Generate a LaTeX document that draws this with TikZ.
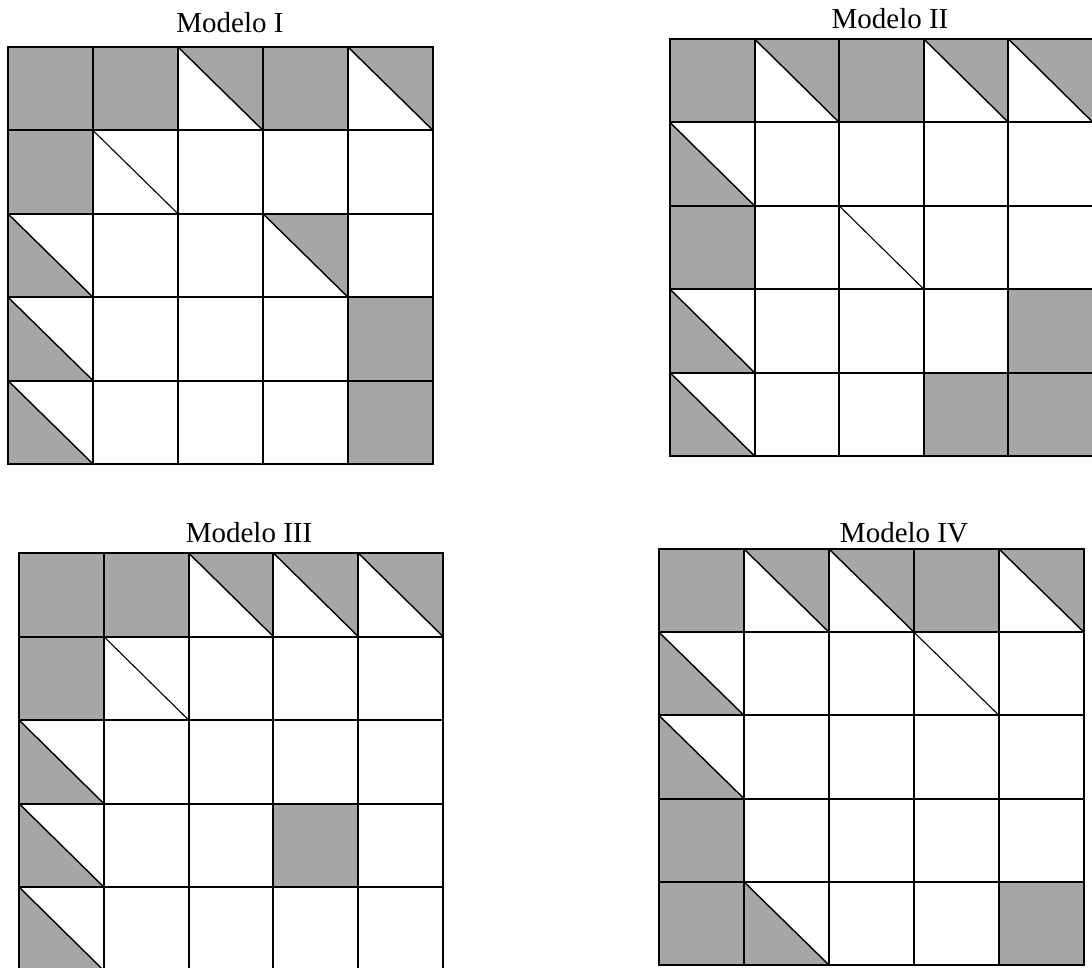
\documentclass[tikz,border=0pt]{standalone}
\usepackage{fontspec}
\setmainfont{Liberation Serif}

\definecolor{tono}{RGB}{166,166,166}

\tikzset{
    rejilla/.style={draw=black, line width=2pt},
    diag/.style={draw=black, line width=1.4pt},
    % one cell of a model, drawn in the unit square
    pics/cellW/.style={code={\draw[rejilla] (0,0) rectangle (1,1);}},
    pics/cellF/.style={code={
        \fill[tono] (0,0) rectangle (1,1);
        \draw[rejilla] (0,0) rectangle (1,1);}},
    pics/cellU/.style={code={
        \fill[tono] (0,0) -- (1,0) -- (1,1) -- cycle;
        \draw[diag] (0,0) -- (1,1);
        \draw[rejilla] (0,0) rectangle (1,1);}},
    pics/cellL/.style={code={
        \fill[tono] (0,0) -- (0,1) -- (1,1) -- cycle;
        \draw[diag] (0,0) -- (1,1);
        \draw[rejilla] (0,0) rectangle (1,1);}},
    pics/cellD/.style={code={
        \draw[diag, line width=1.1pt] (0,0) -- (1,1);
        \draw[rejilla] (0,0) rectangle (1,1);}}
}

\begin{document}
\begin{tikzpicture}[
        x=1pt, y=-1pt,
        titulo/.style={font=\fontsize{29}{34}\selectfont, anchor=base, inner sep=0pt}
    ]
\useasboundingbox (0,0) rectangle (1092,967);

% Modelo I
\node[titulo] (tI) at (230,32) {Modelo I};
\begin{scope}[shift={(8,47)}, x=85pt, y=-83.4pt]
    \foreach \fila [count=\r from 0] in {{F,F,U,F,U},{F,D,W,W,W},{L,W,W,U,W},{L,W,W,W,F},{L,W,W,W,F}}
        \foreach \c [count=\k from 0] in \fila
            \pic at (\k,\r) {cell\c};
\end{scope}

% Modelo II
\node[titulo] (tII) at (890,28) {Modelo II};
\begin{scope}[shift={(670,39)}, x=84.6pt, y=-83.4pt]
    \foreach \fila [count=\r from 0] in {{F,U,F,U,U},{L,W,W,W,W},{F,W,D,W,W},{L,W,W,W,F},{L,W,W,F,F}}
        \foreach \c [count=\k from 0] in \fila
            \pic at (\k,\r) {cell\c};
\end{scope}

% Modelo III
\node[titulo] (tIII) at (249,542) {Modelo III};
\begin{scope}[shift={(19,553)}, x=84.8pt, y=-83.5pt]
    \foreach \fila [count=\r from 0] in {{F,F,U,U,U},{F,D,W,W,W},{L,W,W,W,W},{L,W,W,F,W},{L,W,W,W,W}}
        \foreach \c [count=\k from 0] in \fila
            \pic at (\k,\r) {cell\c};
\end{scope}

% Modelo IV
\node[titulo] (tIV) at (904,542) {Modelo IV};
\begin{scope}[shift={(659,549)}, x=85pt, y=-83.2pt]
    \foreach \fila [count=\r from 0] in {{F,U,U,F,U},{L,W,W,D,W},{L,W,W,W,W},{F,W,W,W,W},{F,L,W,W,F}}
        \foreach \c [count=\k from 0] in \fila
            \pic at (\k,\r) {cell\c};
\end{scope}
\end{tikzpicture}
\end{document}
